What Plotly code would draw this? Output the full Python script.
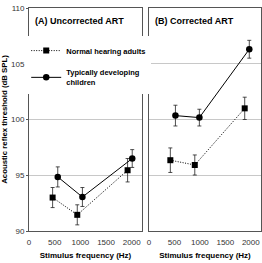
import plotly.graph_objects as go

# frequency (Hz) of plotted points, per panel and group (groups are offset around 500/1000/2000)
freq_adult_A = [460, 940, 1920]
freq_child_A = [560, 1040, 2010]
freq_adult_B = [420, 900, 1880]
freq_child_B = [520, 990, 1970]
adult_uncorr = [93.0, 91.45, 95.45]
adult_uncorr_err = [0.9, 0.9, 1.05]
child_uncorr = [94.85, 93.05, 96.5]
child_uncorr_err = [0.9, 0.85, 0.8]
adult_corr = [96.35, 95.92, 101.0]
adult_corr_err = [1.1, 0.9, 1.0]
child_corr = [100.35, 100.17, 106.3]
child_corr_err = [0.93, 0.75, 0.8]
x_ticks = [0, 500, 1000, 1500, 2000]
y_ticks = [90, 95, 100, 105, 110]

name_adult = "<b>Normal hearing adults</b>"
name_child = "<b>Typically developing<br>children</b>"
panel_titles = ["<b>(A) Uncorrected ART</b>", "<b>(B) Corrected ART</b>"]
x_title = "<b>Stimulus frequency (Hz)</b>"
y_title = "<b>Acoustic reflex threshold (dB SPL)</b>"

FONT = "Arial, 'Liberation Sans', sans-serif"

fig = go.Figure()

def add_series(xa, ya, x_vals, y_vals, err, name, dash, symbol, size, show):
    fig.add_trace(go.Scatter(
        x=x_vals, y=y_vals, xaxis=xa, yaxis=ya, mode="lines+markers", name=name,
        line=dict(color="black", width=1, dash=dash),
        marker=dict(symbol=symbol, size=size, color="black"),
        error_y=dict(type="data", array=err, color="#222", thickness=0.8, width=2),
        showlegend=show, legendgroup=name,
    ))

DOT = "1px,1.5px"
add_series("x", "y", freq_adult_A, adult_uncorr, adult_uncorr_err, name_adult, DOT, "square", 6, True)
add_series("x", "y", freq_child_A, child_uncorr, child_uncorr_err, name_child, "solid", "circle", 6.5, True)
add_series("x2", "y2", freq_adult_B, adult_corr, adult_corr_err, name_adult, DOT, "square", 6, False)
add_series("x2", "y2", freq_child_B, child_corr, child_corr_err, name_child, "solid", "circle", 6.5, False)

axis_common = dict(showline=True, mirror=True, linecolor="#555", linewidth=1,
                   tickfont=dict(size=8, color="#333", family=FONT), zeroline=False)
xax = dict(range=[0, 2200], tickvals=x_ticks, showgrid=False,
           ticks="outside", ticklen=3, tickcolor="rgba(0,0,0,0)",
           title=dict(text=x_title, font=dict(size=8, family=FONT, color="black"), standoff=6),
           **axis_common)
fig.update_layout(
    template="none",
    width=262, height=263,
    margin=dict(l=29, r=1, t=8, b=32),
    paper_bgcolor="white", plot_bgcolor="white",
    font=dict(family=FONT, color="black"),
    xaxis=dict(domain=[0, 0.487], anchor="y", **xax),
    xaxis2=dict(domain=[0.517, 1], anchor="y2", **xax),
    yaxis=dict(range=[90, 110], tickvals=y_ticks, showgrid=True, gridcolor="#c8c8c8",
               gridwidth=1, ticks="outside", ticklen=2, tickcolor="#555", anchor="x",
               title=dict(text=y_title, font=dict(size=7.8, family=FONT, color="black"), standoff=4),
               **axis_common),
    yaxis2=dict(range=[90, 110], tickvals=y_ticks, showgrid=True, gridcolor="#c8c8c8",
                showticklabels=False, ticks="", anchor="x2", matches="y", **axis_common),
    legend=dict(x=-0.012, y=0.874, xanchor="left", yanchor="top", bgcolor="white",
                font=dict(size=7.5, family=FONT, color="black"), tracegroupgap=6, itemwidth=30),
    showlegend=True,
)
for i, t in enumerate(panel_titles):
    xr = "x domain" if i == 0 else "x2 domain"
    yr = "y domain" if i == 0 else "y2 domain"
    fig.add_annotation(text=t, xref=xr, yref=yr, x=0.035, y=0.94, xanchor="left", yanchor="middle",
                       showarrow=False, font=dict(size=9, family=FONT, color="black"))

fig.write_html("out.html")
